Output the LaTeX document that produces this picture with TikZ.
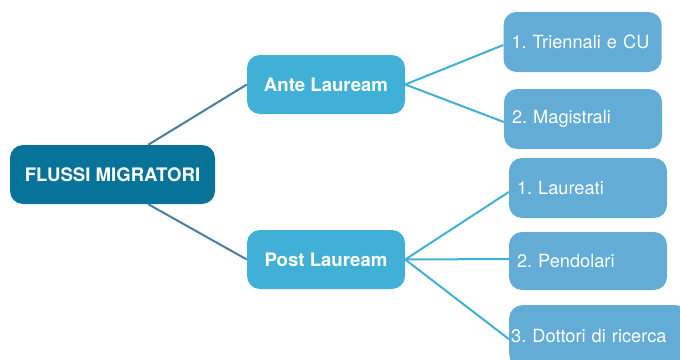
\documentclass[tikz,border=0pt]{standalone}
\usepackage{fontspec}
\setmainfont{TeX Gyre Heros}
\frenchspacing
\definecolor{flow-root}{RGB}{8,115,153}
\definecolor{flow-mid}{RGB}{65,176,214}
\definecolor{flow-leaf}{RGB}{98,172,214}
\definecolor{flow-line}{RGB}{74,125,160}
\begin{document}
\begin{tikzpicture}[x=1pt,y=-1pt,
  box/.style={rectangle, rounded corners=13pt, text=white, inner sep=0pt, font=\fontsize{18.2}{22}\selectfont},
  rootbox/.style={box, fill=flow-root, minimum width=205pt, minimum height=59pt, font=\fontsize{18.6}{22}\selectfont\bfseries},
  midbox/.style={box, fill=flow-mid, minimum width=158pt, minimum height=59pt, font=\fontsize{18.6}{22}\selectfont\bfseries},
  leafbox/.style={box, fill=flow-leaf, minimum height=60pt, text width=142pt, inner xsep=8pt, align=left},
  rootlink/.style={draw=flow-line, line width=2pt},
  leaflink/.style={draw=flow-mid, line width=2pt}]
\clip (0,0) rectangle (680,359);
\node[rootbox] (root) at (112.5,174.5) {FLUSSI MIGRATORI};
\node[midbox] (ante) at (326,84.5) {Ante Lauream};
\node[midbox] (post) at (326,259.5) {Post Lauream};
\node[leafbox] (tri) at (582.5,42) {1. Triennali e CU};
\node[leafbox] (mag) at (583,119) {2. Magistrali};
\node[leafbox] (lau) at (588,188) {1. Laureati};
\node[leafbox, minimum height=58pt] (pen) at (588,261) {2. Pendolari};
\node[leafbox, anchor=north west, text width=176pt, inner xsep=2pt, minimum height=62pt] (dot) at (509,305) {3. Dottori di ricerca};
\draw[rootlink] ([xshift=-67pt]root.north east) -- (ante.west);
\draw[rootlink] ([xshift=-67pt]root.south east) -- (post.west);
\draw[leaflink] (ante.east) -- ([yshift=-3pt]tri.west);
\draw[leaflink] (ante.east) -- ([yshift=-3pt]mag.west);
\draw[leaflink] (post.east) -- ([yshift=-4pt]lau.west);
\draw[leaflink] (post.east) -- ([yshift=2pt]pen.west);
\draw[leaflink] (post.east) -- ([yshift=-3pt]dot.west);
\end{tikzpicture}
\end{document}
